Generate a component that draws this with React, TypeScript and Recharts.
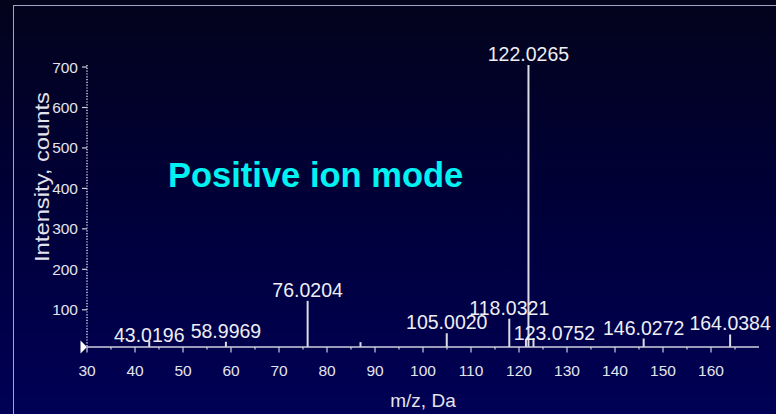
import React from 'react';
import {
  ComposedChart,
  Bar,
  XAxis,
  YAxis,
  LabelList,
  ReferenceDot,
  Customized,
} from 'recharts';

// ---- data ----
const mzValues = [43.0196, 58.9969, 76.0204, 87.03, 105.002, 118.0321, 121.5, 122.0265, 123.0752, 146.0272, 164.0384];
const intensities = [23, 21, 122, 20, 42, 78, 28, 705, 30, 29, 39];
const peakLabels = ['43.0196', '58.9969', '76.0204', '', '105.0020', '118.0321', '', '122.0265', '123.0752', '146.0272', '164.0384'];
const xTicks = [30, 35, 40, 45, 50, 55, 60, 65, 70, 75, 80, 85, 90, 95, 100, 105, 110, 115, 120, 125, 130, 135, 140, 145, 150, 155, 160, 165];
const yTicks = [100, 200, 300, 400, 500, 600, 700];
const titleText = 'Positive ion mode';
const xTitle = 'm/z, Da';
const yTitle = 'Intensity, counts';

const data = mzValues.map((mz, i) => ({ mz, intensity: intensities[i], label: peakLabels[i] }));

// label nudges (styling only)
const labelNudge: Record<string, [number, number]> = {
  '43.0196': [0, 5],
  '123.0752': [21, 6],
};

const FONT = '"Liberation Sans", Arial, Helvetica, sans-serif';
const TEXT = '#e4e4ec';
const LINE = '#d0d0dc';

const XTick = (props: any) => {
  const { x, y, payload } = props;
  const v = payload.value;
  const major = v % 10 === 0;
  return (
    <g>
      <line x1={x} x2={x} y1={y} y2={y + (major ? 5.5 : 2.5)} stroke={LINE} strokeWidth={1.2} />
      {major && (
        <text x={x} y={y + 29} textAnchor="middle" fill={TEXT} fontSize={15.5} fontFamily={FONT}>
          {v}
        </text>
      )}
    </g>
  );
};

const PeakLabel = (props: any) => {
  const vb = props.viewBox && props.viewBox.x !== undefined ? props.viewBox : props;
  const value = props.value;
  if (!value) return null;
  const cx = vb.x + (vb.width || 0) / 2;
  const nudge = labelNudge[value] || [0, 0];
  const tx = cx + nudge[0];
  const ty = vb.y - 4 + nudge[1];
  return (
    <text
      transform={`translate(${tx},${ty}) scale(0.93,1)`}
      textAnchor="middle"
      fill="#eeeef4"
      fontSize={21}
      fontFamily={FONT}
    >
      {value}
    </text>
  );
};

const Annotations = () => (
  <g>
    <text x={168} y={187} fill="#00f2f2" fontSize={34.5} fontWeight="bold" fontFamily={FONT}>
      {titleText}
    </text>
    <text x={423} y={407} textAnchor="middle" fill={TEXT} fontSize={19} fontFamily={FONT}>
      {xTitle}
    </text>
    <text
      transform="translate(49,177) rotate(-90)"
      textAnchor="middle"
      fill={TEXT}
      fontSize={21}
      fontFamily={FONT}
      textLength={170}
      lengthAdjust="spacingAndGlyphs"
    >
      {yTitle}
    </text>
  </g>
);

const Triangle = (p: any) => (
  <path d={`M${p.cx - 6.5},${p.cy - 6.5} L${p.cx},${p.cy} L${p.cx - 6.5},${p.cy + 6.5} Z`} fill="#ffffff" />
);

export default function App() {
  return (
    <div
      style={{
        position: 'absolute',
        left: 0,
        top: 0,
        width: 776,
        height: 414,
        overflow: 'hidden',
        background: 'linear-gradient(to bottom, #03031c 0%, #00003c 55%, #000056 100%)',
        fontFamily: FONT,
      }}
    >
      <div
        style={{
          position: 'absolute',
          left: 13,
          top: 5,
          width: 900,
          height: 600,
          border: '1.5px solid #a4a4c4',
          boxSizing: 'border-box',
        }}
      />
      <div style={{ position: 'absolute', left: 0, top: 0 }}>
        <ComposedChart
          width={776}
          height={414}
          data={data}
          margin={{ top: 65, right: 17, bottom: 0, left: 0 }}
        >
          <XAxis
            dataKey="mz"
            type="number"
            domain={[30, 170]}
            ticks={xTicks}
            interval={0}
            height={67}
            tickSize={0}
            tickMargin={0}
            tickLine={false}
            tick={<XTick />}
            axisLine={{ stroke: LINE, strokeWidth: 1.5 }}
          />
          <YAxis
            type="number"
            domain={[8, 705]}
            ticks={yTicks}
            interval={0}
            width={87}
            tickSize={5}
            tickMargin={4}
            tickLine={{ stroke: LINE, strokeWidth: 1.2 }}
            axisLine={{ stroke: LINE, strokeWidth: 1.5, strokeDasharray: '1.2 1.6' }}
            tick={{ fill: TEXT, fontSize: 15.5, fontFamily: FONT }}
          />
          <Bar dataKey="intensity" fill="#dcdce4" barSize={2} isAnimationActive={false}>
            <LabelList dataKey="label" content={<PeakLabel />} />
          </Bar>
          <ReferenceDot x={30} y={8} r={0} ifOverflow="visible" shape={<Triangle />} />
          <Customized component={<Annotations />} />
        </ComposedChart>
      </div>
    </div>
  );
}
